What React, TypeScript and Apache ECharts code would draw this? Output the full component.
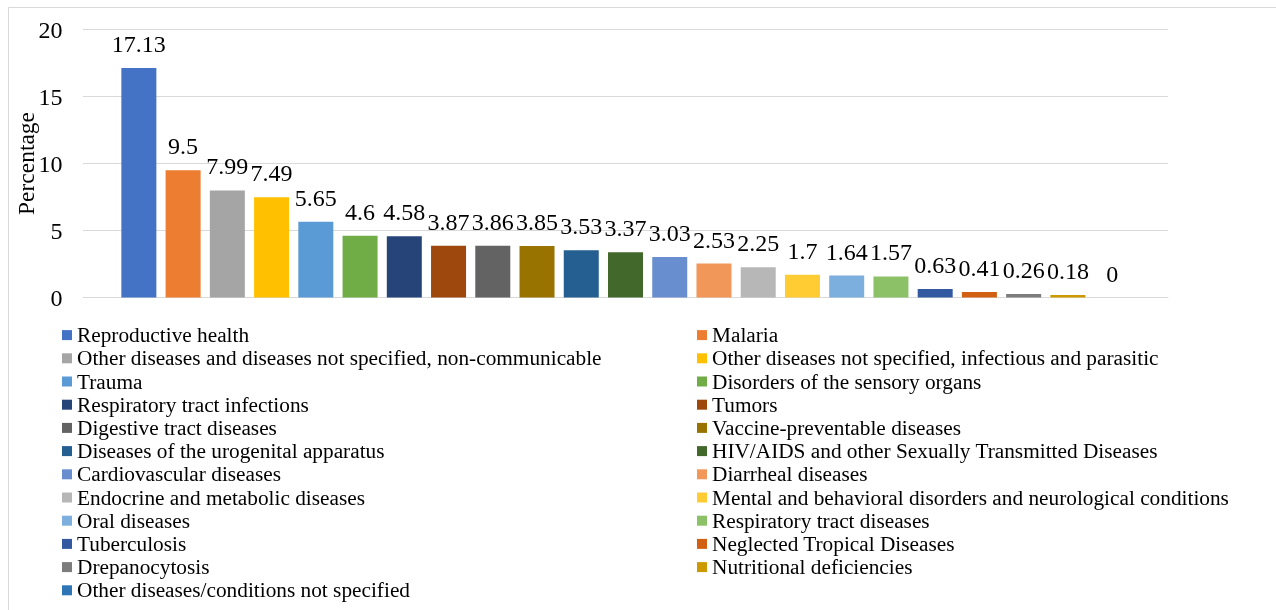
import React, { useEffect, useRef } from "react";
import * as echarts from "echarts";

const categories = [
  "Reproductive health",
  "Malaria",
  "Other diseases and diseases not specified, non-communicable",
  "Other diseases not specified, infectious and parasitic",
  "Trauma",
  "Disorders of the sensory organs",
  "Respiratory tract infections",
  "Tumors",
  "Digestive tract diseases",
  "Vaccine-preventable diseases",
  "Diseases of the urogenital apparatus",
  "HIV/AIDS and other Sexually Transmitted Diseases",
  "Cardiovascular diseases",
  "Diarrheal diseases",
  "Endocrine and metabolic diseases",
  "Mental and behavioral disorders and neurological conditions",
  "Oral diseases",
  "Respiratory tract diseases",
  "Tuberculosis",
  "Neglected Tropical Diseases",
  "Drepanocytosis",
  "Nutritional deficiencies",
  "Other diseases/conditions not specified",
];

const values = [
  17.13, 9.5, 7.99, 7.49, 5.65, 4.6, 4.58, 3.87, 3.86, 3.85, 3.53, 3.37, 3.03,
  2.53, 2.25, 1.7, 1.64, 1.57, 0.63, 0.41, 0.26, 0.18, 0,
];

const colors = [
  "#4472C4", "#ED7D31", "#A5A5A5", "#FFC000", "#5B9BD5", "#70AD47",
  "#264478", "#9E480E", "#636363", "#997300", "#255E91", "#43682B",
  "#698ED0", "#F1975A", "#B7B7B7", "#FFCD33", "#7CAFDD", "#8CC168",
  "#335AA1", "#D26012", "#7C7C7C", "#CC9A00", "#2E75B6",
];

const yTicks = { min: 0, max: 20, interval: 5 };
const yTitle = "Percentage";

const FONT = "'Liberation Serif', 'Times New Roman', serif";

export default function App() {
  const ref = useRef<HTMLDivElement>(null);
  useEffect(() => {
    if (!ref.current) return;
    const chart = echarts.init(ref.current, null, { renderer: "svg" });
    const leftNames = categories.filter((_, i) => i % 2 === 0);
    const rightNames = categories.filter((_, i) => i % 2 === 1);
    const legendCommon = {
      orient: "vertical" as const,
      top: 323.5,
      padding: 0,
      itemGap: 0,
      itemWidth: 10,
      itemHeight: 10,
      icon: "rect",
      selectedMode: false,
      textStyle: {
        fontFamily: FONT,
        fontSize: 21.3,
        color: "#000",
        lineHeight: 23.2,
      },
    };
    chart.setOption({
      animation: false,
      color: colors,
      graphic: [
        {
          type: "rect",
          shape: { x: 8.5, y: 7.5, width: 1400, height: 800 },
          style: { fill: "none", stroke: "#d9d9d9", lineWidth: 1 },
          silent: true,
        },
      ],
      legend: [
        { ...legendCommon, left: 62, data: leftNames },
        { ...legendCommon, left: 697, data: rightNames },
      ],
      grid: { left: 83, right: 1276 - 1168, top: 29.5, bottom: 610 - 297.5 },
      xAxis: {
        type: "category",
        data: [""],
        axisLine: { lineStyle: { color: "#d9d9d9", width: 1 } },
        axisTick: { show: false },
        axisLabel: { show: false },
      },
      yAxis: {
        type: "value",
        min: yTicks.min,
        max: yTicks.max,
        interval: yTicks.interval,
        name: yTitle,
        nameLocation: "middle",
        nameGap: 45,
        nameMoveOverlap: false,
        nameRotate: 90,
        nameTextStyle: { fontFamily: FONT, fontSize: 23.5, color: "#000" },
        axisLine: { show: false },
        axisTick: { show: false },
        axisLabel: {
          fontFamily: FONT,
          fontSize: 24,
          color: "#000",
          margin: 20.5,
        },
        splitLine: { lineStyle: { color: "#d9d9d9", width: 1 } },
      },
      series: categories.map((name, i) => ({
        name,
        type: "bar",
        data: [values[i]],
        barWidth: 35,
        barGap: "26.4%",
        itemStyle: { color: colors[i] },
        label: {
          show: true,
          position: "top",
          distance: 12,
          fontFamily: FONT,
          fontSize: 24,
          color: "#000",
        },
      })),
    });
    return () => chart.dispose();
  }, []);
  return (
    <div
      ref={ref}
      style={{ position: "fixed", left: 0, top: 0, width: 1276, height: 610 }}
    />
  );
}
